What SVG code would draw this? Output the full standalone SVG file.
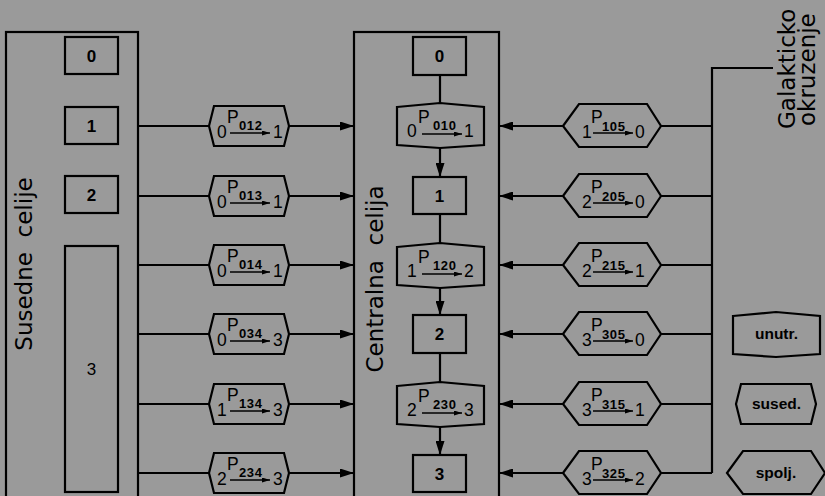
<svg xmlns="http://www.w3.org/2000/svg" width="825" height="496" viewBox="0 0 825 496">
<style>
.ln{fill:none;stroke:#000;stroke-width:2.2}
.sh{fill:none;stroke:#000;stroke-width:2.2;stroke-linejoin:miter}
.bx{fill:none;stroke:#000;stroke-width:2.2}
.t{font-family:"Liberation Sans",Arial,sans-serif;fill:#000}
.d{font-size:17.5px}
.p{font-size:17.5px}
.s{font-size:13px;font-weight:bold;letter-spacing:0.6px}
.bl{font-size:17px;font-weight:bold;text-anchor:middle}
.lg{font-size:15.5px;font-weight:bold;text-anchor:middle}
.ti{font-family:"DejaVu Sans",sans-serif;font-size:23px;fill:#000;white-space:pre}
.sa{fill:none;stroke:#000;stroke-width:1.6}
</style>
<defs>
<marker id="ah" markerWidth="14" markerHeight="9" refX="14" refY="4.5" orient="auto" markerUnits="userSpaceOnUse"><path d="M0,0 L14,4.5 L0,9 Z" fill="#000"/></marker>
<marker id="as" markerWidth="8" markerHeight="5" refX="8" refY="2.5" orient="auto" markerUnits="userSpaceOnUse"><path d="M0,0 L8,2.5 L0,5 Z" fill="#000"/></marker>
<path id="hexL" d="M0,0 L5,-20 L75,-20 L80,0 L75,20 L5,20 Z"/>
<path id="hexR" d="M0,0 L16,-22 L84,-22 L98,0 L84,21 L16,21 Z"/>
<path id="hexC" d="M0,-18 L43,-22 L87,-18 L87,20 L43,23 L0,20 Z"/>
</defs>
<rect x="0" y="0" width="825" height="496" fill="#9a9a9a"/>

<g id="panel-susedne">
<rect class="bx" x="6" y="32" width="132" height="480"/>
<text class="ti" text-anchor="middle" xml:space="preserve" transform="translate(32,264) rotate(-90)">Susedne  celije</text>
</g>
<g id="s0"><rect class="bx" x="65" y="37" width="53" height="37"/><text class="t bl" x="91.5" y="62">0</text></g>
<g id="s1"><rect class="bx" x="65" y="107" width="53" height="37"/><text class="t bl" x="91.5" y="132">1</text></g>
<g id="s2"><rect class="bx" x="65" y="176" width="53" height="37"/><text class="t bl" x="91.5" y="201">2</text></g>
<g id="s3"><rect class="bx" x="65" y="246" width="53" height="246"/><text class="t bl" x="91.5" y="375" style="font-weight:normal">3</text></g>

<g id="panel-centralna">
<rect class="bx" x="354" y="32" width="145" height="480"/>
<text class="ti" text-anchor="middle" xml:space="preserve" transform="translate(383,279) rotate(-90)">Centralna  celija</text>
</g>
<g id="c0"><rect class="bx" x="413" y="37" width="53" height="38"/><text class="t bl" x="439.5" y="62">0</text></g>
<g id="c1"><rect class="bx" x="413" y="177" width="53" height="37"/><text class="t bl" x="439.5" y="202">1</text></g>
<g id="c2"><rect class="bx" x="413" y="315" width="53" height="38"/><text class="t bl" x="439.5" y="340">2</text></g>
<g id="c3"><rect class="bx" x="413" y="455" width="53" height="37"/><text class="t bl" x="439.5" y="480">3</text></g>

<g id="h010" transform="translate(397,125)"><use href="#hexC" class="sh"/><text class="t d" x="10" y="12">0</text><text class="t p" x="21" y="-2">P</text><text class="t s" x="36" y="5">010</text><path class="sa" d="M25,9 H65" marker-end="url(#as)"/><text class="t d" x="67" y="12">1</text></g>
<g id="h120" transform="translate(397,265)"><use href="#hexC" class="sh"/><text class="t d" x="10" y="12">1</text><text class="t p" x="21" y="-2">P</text><text class="t s" x="36" y="5">120</text><path class="sa" d="M25,9 H65" marker-end="url(#as)"/><text class="t d" x="67" y="12">2</text></g>
<g id="h230" transform="translate(397,404)"><use href="#hexC" class="sh"/><text class="t d" x="10" y="12">2</text><text class="t p" x="21" y="-2">P</text><text class="t s" x="36" y="5">230</text><path class="sa" d="M25,9 H65" marker-end="url(#as)"/><text class="t d" x="67" y="12">3</text></g>

<g id="l012" transform="translate(209,126)"><use href="#hexL" class="sh"/><text class="t d" x="8" y="12">0</text><text class="t p" x="18" y="-3">P</text><text class="t s" x="30" y="4">012</text><path class="sa" d="M21,7 H61" marker-end="url(#as)"/><text class="t d" x="64" y="12">1</text></g>
<g id="l013" transform="translate(209,196)"><use href="#hexL" class="sh"/><text class="t d" x="8" y="12">0</text><text class="t p" x="18" y="-3">P</text><text class="t s" x="30" y="4">013</text><path class="sa" d="M21,7 H61" marker-end="url(#as)"/><text class="t d" x="64" y="12">1</text></g>
<g id="l014" transform="translate(209,265)"><use href="#hexL" class="sh"/><text class="t d" x="8" y="12">0</text><text class="t p" x="18" y="-3">P</text><text class="t s" x="30" y="4">014</text><path class="sa" d="M21,7 H61" marker-end="url(#as)"/><text class="t d" x="64" y="12">1</text></g>
<g id="l034" transform="translate(209,334)"><use href="#hexL" class="sh"/><text class="t d" x="8" y="12">0</text><text class="t p" x="18" y="-3">P</text><text class="t s" x="30" y="4">034</text><path class="sa" d="M21,7 H61" marker-end="url(#as)"/><text class="t d" x="64" y="12">3</text></g>
<g id="l134" transform="translate(209,404)"><use href="#hexL" class="sh"/><text class="t d" x="8" y="12">1</text><text class="t p" x="18" y="-3">P</text><text class="t s" x="30" y="4">134</text><path class="sa" d="M21,7 H61" marker-end="url(#as)"/><text class="t d" x="64" y="12">3</text></g>
<g id="l234" transform="translate(209,473)"><use href="#hexL" class="sh"/><text class="t d" x="8" y="12">2</text><text class="t p" x="18" y="-3">P</text><text class="t s" x="30" y="4">234</text><path class="sa" d="M21,7 H61" marker-end="url(#as)"/><text class="t d" x="64" y="12">3</text></g>

<g id="r105" transform="translate(563,126)"><use href="#hexR" class="sh"/><text class="t d" x="19" y="12">1</text><text class="t p" x="28" y="-3">P</text><text class="t s" x="39" y="5">105</text><path class="sa" d="M30,7 H70" marker-end="url(#as)"/><text class="t d" x="72" y="12">0</text></g>
<g id="r205" transform="translate(563,196)"><use href="#hexR" class="sh"/><text class="t d" x="19" y="12">2</text><text class="t p" x="28" y="-3">P</text><text class="t s" x="39" y="5">205</text><path class="sa" d="M30,7 H70" marker-end="url(#as)"/><text class="t d" x="72" y="12">0</text></g>
<g id="r215" transform="translate(563,265)"><use href="#hexR" class="sh"/><text class="t d" x="19" y="12">2</text><text class="t p" x="28" y="-3">P</text><text class="t s" x="39" y="5">215</text><path class="sa" d="M30,7 H70" marker-end="url(#as)"/><text class="t d" x="72" y="12">1</text></g>
<g id="r305" transform="translate(563,334)"><use href="#hexR" class="sh"/><text class="t d" x="19" y="12">3</text><text class="t p" x="28" y="-3">P</text><text class="t s" x="39" y="5">305</text><path class="sa" d="M30,7 H70" marker-end="url(#as)"/><text class="t d" x="72" y="12">0</text></g>
<g id="r315" transform="translate(563,404)"><use href="#hexR" class="sh"/><text class="t d" x="19" y="12">3</text><text class="t p" x="28" y="-3">P</text><text class="t s" x="39" y="5">315</text><path class="sa" d="M30,7 H70" marker-end="url(#as)"/><text class="t d" x="72" y="12">1</text></g>
<g id="r325" transform="translate(563,473)"><use href="#hexR" class="sh"/><text class="t d" x="19" y="12">3</text><text class="t p" x="28" y="-3">P</text><text class="t s" x="39" y="5">325</text><path class="sa" d="M30,7 H70" marker-end="url(#as)"/><text class="t d" x="72" y="12">2</text></g>

<g id="galakticko">
<text class="ti" style="font-size:23px" transform="translate(795,129) rotate(-90)">Galakticko</text>
<text class="ti" style="font-size:23px" transform="translate(815,126) rotate(-90)">okruzenje</text>
</g>

<g id="legend-unutr" transform="translate(733,334)"><use href="#hexC" class="sh"/><text class="t lg" x="43.5" y="5">unutr.</text></g>
<g id="legend-sused" transform="translate(736,404)"><use href="#hexL" class="sh"/><text class="t lg" x="40.5" y="5">sused.</text></g>
<g id="legend-spolj" transform="translate(727,473)"><use href="#hexR" class="sh"/><text class="t lg" x="49" y="5">spolj.</text></g>

<g id="connectors">
<path class="ln" d="M138,126 H209 M138,196 H209 M138,265 H209 M138,334 H209 M138,404 H209 M138,473 H209"/>
<path class="ln" d="M289,126 H354" marker-end="url(#ah)"/>
<path class="ln" d="M289,196 H354" marker-end="url(#ah)"/>
<path class="ln" d="M289,265 H354" marker-end="url(#ah)"/>
<path class="ln" d="M289,334 H354" marker-end="url(#ah)"/>
<path class="ln" d="M289,404 H354" marker-end="url(#ah)"/>
<path class="ln" d="M289,473 H354" marker-end="url(#ah)"/>
<path class="ln" d="M563,126 H499" marker-end="url(#ah)"/>
<path class="ln" d="M563,196 H499" marker-end="url(#ah)"/>
<path class="ln" d="M563,265 H499" marker-end="url(#ah)"/>
<path class="ln" d="M563,334 H499" marker-end="url(#ah)"/>
<path class="ln" d="M563,404 H499" marker-end="url(#ah)"/>
<path class="ln" d="M563,473 H499" marker-end="url(#ah)"/>
<path class="ln" d="M773,68 H712 V473 M712,126 H661 M712,196 H661 M712,265 H661 M712,334 H661 M712,404 H661 M712,473 H661"/>
<path class="ln" d="M440,75 V103 M440,214 V243 M440,353 V382"/>
<path class="ln" d="M440,148 V177" marker-end="url(#ah)"/>
<path class="ln" d="M440,288 V315" marker-end="url(#ah)"/>
<path class="ln" d="M440,427 V455" marker-end="url(#ah)"/>
</g>
</svg>
